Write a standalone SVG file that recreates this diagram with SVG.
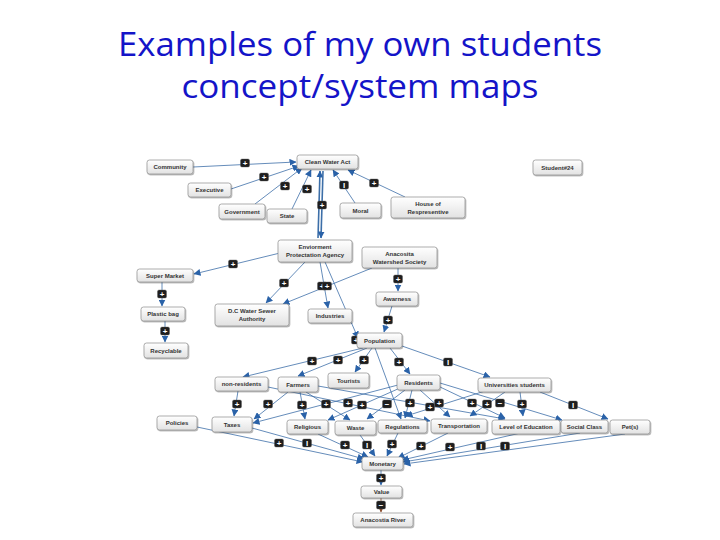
<svg xmlns="http://www.w3.org/2000/svg" width="720" height="540" viewBox="0 0 720 540">
<defs>
<linearGradient id="ng" x1="0" y1="0" x2="0" y2="1"><stop offset="0" stop-color="#ffffff"/><stop offset="1" stop-color="#e2e2e2"/></linearGradient>
<filter id="sh" x="-20%" y="-30%" width="140%" height="170%"><feDropShadow dx="0.8" dy="1" stdDeviation="0.7" flood-color="#000" flood-opacity="0.35"/></filter>
<marker id="ar" markerUnits="userSpaceOnUse" markerWidth="7" markerHeight="7" refX="6.5" refY="3.5" orient="auto"><path d="M0,0 L7,3.5 L0,7 z" fill="#2a62a8"/></marker>
<marker id="arb" markerUnits="userSpaceOnUse" markerWidth="7" markerHeight="7" refX="6.5" refY="3.5" orient="auto"><path d="M0,0 L7,3.5 L0,7 z" fill="#8a4a2a"/></marker>
<style>
.title{font-family:"Open Sans","Liberation Sans",sans-serif;font-size:32px;fill:#1414c8;text-anchor:middle}
.node rect{fill:url(#ng);stroke:#8a8a8a;stroke-width:0.7;filter:url(#sh)}
.node text{font-family:"Liberation Sans",Arial,sans-serif;font-size:6px;font-weight:bold;fill:#333;text-anchor:middle}
.e{fill:none;stroke:#3d6fa8;stroke-width:0.8;marker-end:url(#ar)}
.thick{stroke-width:1.6}
.brown{stroke:#8a4a2a;marker-end:url(#arb)}
.lab rect{fill:#1e1e1e;stroke:#555;stroke-width:0.4}
.lab text{font-family:"Liberation Sans",Arial,sans-serif;font-size:8px;font-weight:bold;fill:#fff;text-anchor:middle}
</style>
</defs>
<rect width="720" height="540" fill="#fff"/>
<text class="title" x="360" y="56" textLength="484" lengthAdjust="spacingAndGlyphs">Examples of my own students</text>
<text class="title" x="360" y="98" textLength="357" lengthAdjust="spacingAndGlyphs">concept/system maps</text>

<g id="connectors">
<path class="e" d="M193,167 L296,162"/>
<path class="e" d="M231,189 L299,166"/>
<path class="e" d="M255,204 L302,168"/>
<path class="e" d="M292,209 L311,170"/>
<path class="e" d="M355,203 L333,170"/>
<path class="e" d="M405,197 L348,170"/>
<path class="e thick" d="M318,238 L320,171"/>
<path class="e thick" d="M323,171 L321,238"/>
<path class="e" d="M280,253 L194,274"/>
<path class="e" d="M305,262 L266,303"/>
<path class="e" d="M372,268 L283,304"/>
<path class="e" d="M320,262 L328,308"/>
<path class="e" d="M325,262 L358,338"/>
<path class="e" d="M162,282 L162,306"/>
<path class="e" d="M165,321 L165,342"/>
<path class="e" d="M398,268 L398,291"/>
<path class="e" d="M392,306 L384,332"/>
<path class="e" d="M363,348 L243,377"/>
<path class="e" d="M367,348 L298,376"/>
<path class="e" d="M372,348 L355,372"/>
<path class="e" d="M390,348 L410,374"/>
<path class="e" d="M402,346 L490,377"/>
<path class="e" d="M375,348 L401,419"/>
<path class="e" d="M238,391 L234,416"/>
<path class="e" d="M288,392 L254,419"/>
<path class="e" d="M300,392 L305,419"/>
<path class="e" d="M306,392 L350,420"/>
<path class="e" d="M268,387 L430,421"/>
<path class="e" d="M318,386 L505,419"/>
<path class="e" d="M398,385 L253,423"/>
<path class="e" d="M400,388 L328,420"/>
<path class="e" d="M405,390 L367,419"/>
<path class="e" d="M412,390 L405,418"/>
<path class="e" d="M420,390 L450,417"/>
<path class="e" d="M438,386 L505,418"/>
<path class="e" d="M440,383 L562,420"/>
<path class="e" d="M485,391 L406,416"/>
<path class="e" d="M505,392 L470,416"/>
<path class="e" d="M520,392 L523,416"/>
<path class="e" d="M540,392 L608,419"/>
<path class="e" d="M197,427 L363,462"/>
<path class="e" d="M252,428 L364,459"/>
<path class="e" d="M318,434 L368,457"/>
<path class="e" d="M360,435 L375,456"/>
<path class="e" d="M398,433 L387,456"/>
<path class="e" d="M448,433 L398,458"/>
<path class="e" d="M525,432 L402,460"/>
<path class="e" d="M580,433 L403,462"/>
<path class="e" d="M625,434 L404,464"/>
<path class="e" d="M381,470 L381,485"/>
<path class="e brown" d="M381,498 L381,512"/>

<g class="lab" transform="translate(245,163)"><rect x="-4.5" y="-4" width="9" height="8" rx="1.5"/><text y="3">+</text></g>
<g class="lab" transform="translate(264,177)"><rect x="-4.5" y="-4" width="9" height="8" rx="1.5"/><text y="3">+</text></g>
<g class="lab" transform="translate(285,186)"><rect x="-4.5" y="-4" width="9" height="8" rx="1.5"/><text y="3">+</text></g>
<g class="lab" transform="translate(307,189)"><rect x="-4.5" y="-4" width="9" height="8" rx="1.5"/><text y="3">+</text></g>
<g class="lab" transform="translate(344,185)"><rect x="-4.5" y="-4" width="9" height="8" rx="1.5"/><text y="3">I</text></g>
<g class="lab" transform="translate(374,183)"><rect x="-4.5" y="-4" width="9" height="8" rx="1.5"/><text y="3">+</text></g>
<g class="lab" transform="translate(322,205)"><rect x="-4.5" y="-4" width="9" height="8" rx="1.5"/><text y="3">+</text></g>
<g class="lab" transform="translate(233,264)"><rect x="-4.5" y="-4" width="9" height="8" rx="1.5"/><text y="3">+</text></g>
<g class="lab" transform="translate(284,283)"><rect x="-4.5" y="-4" width="9" height="8" rx="1.5"/><text y="3">+</text></g>
<g class="lab" transform="translate(322,286)"><rect x="-4.5" y="-4" width="9" height="8" rx="1.5"/><text y="3">+</text></g>
<g class="lab" transform="translate(327,286)"><rect x="-4.5" y="-4" width="9" height="8" rx="1.5"/><text y="3">+</text></g>
<g class="lab" transform="translate(356,340)"><rect x="-4.5" y="-4" width="9" height="8" rx="1.5"/><text y="3">+</text></g>
<g class="lab" transform="translate(162,294)"><rect x="-4.5" y="-4" width="9" height="8" rx="1.5"/><text y="3">+</text></g>
<g class="lab" transform="translate(165,331)"><rect x="-4.5" y="-4" width="9" height="8" rx="1.5"/><text y="3">+</text></g>
<g class="lab" transform="translate(398,279)"><rect x="-4.5" y="-4" width="9" height="8" rx="1.5"/><text y="3">+</text></g>
<g class="lab" transform="translate(388,320)"><rect x="-4.5" y="-4" width="9" height="8" rx="1.5"/><text y="3">+</text></g>
<g class="lab" transform="translate(312,361)"><rect x="-4.5" y="-4" width="9" height="8" rx="1.5"/><text y="3">+</text></g>
<g class="lab" transform="translate(338,360)"><rect x="-4.5" y="-4" width="9" height="8" rx="1.5"/><text y="3">+</text></g>
<g class="lab" transform="translate(364,360)"><rect x="-4.5" y="-4" width="9" height="8" rx="1.5"/><text y="3">+</text></g>
<g class="lab" transform="translate(399,362)"><rect x="-4.5" y="-4" width="9" height="8" rx="1.5"/><text y="3">+</text></g>
<g class="lab" transform="translate(448,362)"><rect x="-4.5" y="-4" width="9" height="8" rx="1.5"/><text y="3">I</text></g>
<g class="lab" transform="translate(237,404)"><rect x="-4.5" y="-4" width="9" height="8" rx="1.5"/><text y="3">+</text></g>
<g class="lab" transform="translate(268,404)"><rect x="-4.5" y="-4" width="9" height="8" rx="1.5"/><text y="3">+</text></g>
<g class="lab" transform="translate(302,405)"><rect x="-4.5" y="-4" width="9" height="8" rx="1.5"/><text y="3">+</text></g>
<g class="lab" transform="translate(326,404)"><rect x="-4.5" y="-4" width="9" height="8" rx="1.5"/><text y="3">+</text></g>
<g class="lab" transform="translate(348,403)"><rect x="-4.5" y="-4" width="9" height="8" rx="1.5"/><text y="3">+</text></g>
<g class="lab" transform="translate(362,405)"><rect x="-4.5" y="-4" width="9" height="8" rx="1.5"/><text y="3">+</text></g>
<g class="lab" transform="translate(387,404)"><rect x="-4.5" y="-4" width="9" height="8" rx="1.5"/><text y="3">−</text></g>
<g class="lab" transform="translate(410,403)"><rect x="-4.5" y="-4" width="9" height="8" rx="1.5"/><text y="3">+</text></g>
<g class="lab" transform="translate(430,407)"><rect x="-4.5" y="-4" width="9" height="8" rx="1.5"/><text y="3">+</text></g>
<g class="lab" transform="translate(439,403)"><rect x="-4.5" y="-4" width="9" height="8" rx="1.5"/><text y="3">+</text></g>
<g class="lab" transform="translate(472,403)"><rect x="-4.5" y="-4" width="9" height="8" rx="1.5"/><text y="3">+</text></g>
<g class="lab" transform="translate(487,404)"><rect x="-4.5" y="-4" width="9" height="8" rx="1.5"/><text y="3">+</text></g>
<g class="lab" transform="translate(500,403)"><rect x="-4.5" y="-4" width="9" height="8" rx="1.5"/><text y="3">−</text></g>
<g class="lab" transform="translate(522,404)"><rect x="-4.5" y="-4" width="9" height="8" rx="1.5"/><text y="3">+</text></g>
<g class="lab" transform="translate(573,405)"><rect x="-4.5" y="-4" width="9" height="8" rx="1.5"/><text y="3">I</text></g>
<g class="lab" transform="translate(279,443)"><rect x="-4.5" y="-4" width="9" height="8" rx="1.5"/><text y="3">+</text></g>
<g class="lab" transform="translate(307,443)"><rect x="-4.5" y="-4" width="9" height="8" rx="1.5"/><text y="3">I</text></g>
<g class="lab" transform="translate(345,445)"><rect x="-4.5" y="-4" width="9" height="8" rx="1.5"/><text y="3">+</text></g>
<g class="lab" transform="translate(367,445)"><rect x="-4.5" y="-4" width="9" height="8" rx="1.5"/><text y="3">I</text></g>
<g class="lab" transform="translate(392,444)"><rect x="-4.5" y="-4" width="9" height="8" rx="1.5"/><text y="3">+</text></g>
<g class="lab" transform="translate(421,446)"><rect x="-4.5" y="-4" width="9" height="8" rx="1.5"/><text y="3">+</text></g>
<g class="lab" transform="translate(450,447)"><rect x="-4.5" y="-4" width="9" height="8" rx="1.5"/><text y="3">+</text></g>
<g class="lab" transform="translate(481,446)"><rect x="-4.5" y="-4" width="9" height="8" rx="1.5"/><text y="3">I</text></g>
<g class="lab" transform="translate(505,446)"><rect x="-4.5" y="-4" width="9" height="8" rx="1.5"/><text y="3">I</text></g>
<g class="lab" transform="translate(381,478)"><rect x="-4.5" y="-4" width="9" height="8" rx="1.5"/><text y="3">+</text></g>
<g class="lab" transform="translate(381,505)"><rect x="-4.5" y="-4" width="9" height="8" rx="1.5"/><text y="3">−</text></g>
</g>

<g id="n-community" class="node"><rect x="147" y="160" width="46" height="14" rx="2.5"/><text x="170" y="169">Community</text></g>
<g id="n-cwa" class="node"><rect x="297" y="155" width="61" height="14" rx="2.5"/><text x="327.5" y="164">Clean Water Act</text></g>
<g id="n-executive" class="node"><rect x="188" y="183" width="43" height="14" rx="2.5"/><text x="209.5" y="192">Executive</text></g>
<g id="n-government" class="node"><rect x="219" y="204" width="46" height="15" rx="2.5"/><text x="242" y="213.5">Government</text></g>
<g id="n-state" class="node"><rect x="267" y="209" width="40" height="14" rx="2.5"/><text x="287" y="218">State</text></g>
<g id="n-moral" class="node"><rect x="340" y="203" width="41" height="15" rx="2.5"/><text x="360.5" y="212.5">Moral</text></g>
<g id="n-house" class="node"><rect x="391" y="197" width="74" height="21" rx="2.5"/><text x="428" y="206">House of</text><text x="428" y="213.5">Respresentive</text></g>
<g id="n-student" class="node"><rect x="533" y="160" width="49" height="15" rx="2.5"/><text x="557.5" y="169.5">Student#24</text></g>
<g id="n-epa" class="node"><rect x="278" y="240" width="74" height="22" rx="2.5"/><text x="315" y="249">Enviorment</text><text x="315" y="256.5">Protectation Agency</text></g>
<g id="n-anacosita" class="node"><rect x="362" y="247" width="75" height="21" rx="2.5"/><text x="399.5" y="256">Anacosita</text><text x="399.5" y="263.5">Watershed Society</text></g>
<g id="n-supermarket" class="node"><rect x="137" y="269" width="56" height="13" rx="2.5"/><text x="165" y="277.5">Super Market</text></g>
<g id="n-plasticbag" class="node"><rect x="141" y="307" width="44" height="14" rx="2.5"/><text x="163" y="316">Plastic bag</text></g>
<g id="n-recyclable" class="node"><rect x="144" y="343" width="44" height="15" rx="2.5"/><text x="166" y="352.5">Recyclable</text></g>
<g id="n-dcws" class="node"><rect x="215" y="304" width="74" height="22" rx="2.5"/><text x="252" y="313">D.C Water Sewer</text><text x="252" y="320.5">Authority</text></g>
<g id="n-industries" class="node"><rect x="308" y="309" width="44" height="14" rx="2.5"/><text x="330" y="318">Industries</text></g>
<g id="n-awarness" class="node"><rect x="376" y="292" width="42" height="14" rx="2.5"/><text x="397" y="301">Awarness</text></g>
<g id="n-population" class="node"><rect x="357" y="333" width="45" height="15" rx="2.5"/><text x="379.5" y="342.5">Population</text></g>
<g id="n-nonres" class="node"><rect x="215" y="377" width="53" height="14" rx="2.5"/><text x="241.5" y="386">non-residents</text></g>
<g id="n-farmers" class="node"><rect x="278" y="377" width="40" height="15" rx="2.5"/><text x="298" y="386.5">Farmers</text></g>
<g id="n-tourists" class="node"><rect x="328" y="373" width="41" height="15" rx="2.5"/><text x="348.5" y="382.5">Tourists</text></g>
<g id="n-residents" class="node"><rect x="397" y="375" width="43" height="15" rx="2.5"/><text x="418.5" y="384.5">Residents</text></g>
<g id="n-univ" class="node"><rect x="478" y="378" width="73" height="14" rx="2.5"/><text x="514.5" y="387">Universities students</text></g>
<g id="n-policies" class="node"><rect x="157" y="416" width="40" height="14" rx="2.5"/><text x="177" y="425">Policies</text></g>
<g id="n-taxes" class="node"><rect x="212" y="417" width="40" height="15" rx="2.5"/><text x="232" y="426.5">Taxes</text></g>
<g id="n-religious" class="node"><rect x="287" y="420" width="41" height="14" rx="2.5"/><text x="307.5" y="429">Religious</text></g>
<g id="n-waste" class="node"><rect x="335" y="421" width="41" height="14" rx="2.5"/><text x="355.5" y="430">Waste</text></g>
<g id="n-regulations" class="node"><rect x="378" y="420" width="49" height="13" rx="2.5"/><text x="402.5" y="428.5">Regulations</text></g>
<g id="n-transport" class="node"><rect x="431" y="419" width="56" height="14" rx="2.5"/><text x="459" y="428">Transportation</text></g>
<g id="n-leveledu" class="node"><rect x="492" y="420" width="68" height="14" rx="2.5"/><text x="526" y="429">Level of Education</text></g>
<g id="n-socialclass" class="node"><rect x="561" y="420" width="47" height="13" rx="2.5"/><text x="584.5" y="428.5">Social Class</text></g>
<g id="n-pets" class="node"><rect x="610" y="420" width="40" height="14" rx="2.5"/><text x="630" y="429">Pet(s)</text></g>
<g id="n-monetary" class="node"><rect x="362" y="457" width="41" height="13" rx="2.5"/><text x="382.5" y="465.5">Monetary</text></g>
<g id="n-value" class="node"><rect x="361" y="486" width="41" height="12" rx="2.5"/><text x="381.5" y="494">Value</text></g>
<g id="n-anacostia" class="node"><rect x="353" y="513" width="60" height="14" rx="2.5"/><text x="383" y="522">Anacostia River</text></g>
</svg>
